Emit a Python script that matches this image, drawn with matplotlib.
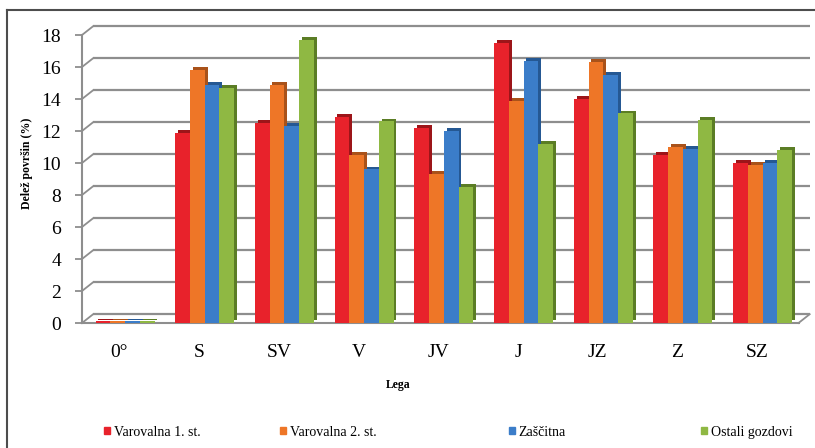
import numpy as np
import matplotlib.pyplot as plt
import matplotlib.patheffects as pe
from matplotlib.patches import Patch
from matplotlib.lines import Line2D

plt.rcParams['font.family'] = ['Liberation Serif', 'DejaVu Serif']

# delež površin po legah (%)
lege = ['0°', 'S', 'SV', 'V', 'JV', 'J', 'JZ', 'Z', 'SZ']
varovalna_1 = [0.1, 11.9, 12.5, 12.9, 12.2, 17.5, 14.0, 10.5, 10.0]
varovalna_2 = [0.1, 15.8, 14.9, 10.5, 9.3, 13.9, 16.3, 11.0, 9.9]
zascitna = [0.1, 14.9, 12.3, 9.6, 12.0, 16.4, 15.5, 10.9, 10.0]
ostali = [0.1, 14.7, 17.7, 12.6, 8.5, 11.2, 13.1, 12.7, 10.8]
imena = ['Varovalna 1. st.', 'Varovalna 2. st.', 'Zaščitna', 'Ostali gozdovi']
barve = ['#e8222b', '#ee7627', '#3b7dc9', '#8fb843']
stranice = ['#9c1519', '#a9521a', '#255893', '#5b7d25']
yticks = np.arange(0, 19, 2)

W, H = 815, 448
fig = plt.figure(figsize=(W / 100, H / 100), dpi=100)

# okvir grafa v pikslih
left, right, bottom, top = 82, 806.5, 323, 35
ax = fig.add_axes([left / W, 1 - bottom / H, (right - left) / W, (bottom - top) / H])
x_lo, x_hi = -0.54, 8.45
ax.set_xlim(x_lo, 8.55)
ax.set_ylim(0, 18)

# globina zadnje stene (v enotah podatkov)
DX, DY = 0.14, 0.55
siva = '#8e8e8e'
for v in yticks:
    ax.plot([x_lo + DX, x_hi + DX], [v + DY, v + DY], color=siva, lw=1.6,
            clip_on=False, zorder=1, solid_capstyle='butt')
    ax.plot([x_lo, x_lo + DX], [v, v + DY], color=siva, lw=1.3, clip_on=False, zorder=1)
ax.plot([x_hi, x_hi + DX], [0, DY], color=siva, lw=1.3, clip_on=False, zorder=1)

x = np.arange(len(lege))
bw = 0.185
podatki = [varovalna_1, varovalna_2, zascitna, ostali]
for k, (vals, c, s) in enumerate(zip(podatki, barve, stranice)):
    bars = ax.bar(x + (k - 1.5) * bw, vals, bw, color=c, zorder=3)
    for b in bars:
        b.set_path_effects([pe.SimplePatchShadow(offset=(2, 2), shadow_rgbFace=s, alpha=1),
                            pe.Normal()])

for sp in ['top', 'right']:
    ax.spines[sp].set_visible(False)
ax.spines['left'].set_color(siva)
ax.spines['left'].set_linewidth(1.5)
ax.spines['bottom'].set_color(siva)
ax.spines['bottom'].set_linewidth(1.5)
ax.spines['bottom'].set_bounds(x_lo, x_hi)

ax.set_yticks(yticks)
ax.tick_params(axis='y', length=5, color=siva, width=1.3, labelsize=14, pad=10)
ax.set_xticks(x - 0.07, lege)
ax.tick_params(axis='x', length=0, labelsize=14, pad=15)
ax.set_facecolor('none')

fig.text(27 / W, 1 - 163 / H, 'Delež površin (%)', rotation=90, fontsize=8.5,
         fontweight='bold', ha='center', va='center')
fig.text(398 / W, 1 - 385 / H, 'Lega', fontsize=8.5, fontweight='bold',
         ha='center', va='center')

# legenda: vsak vnos posebej
leg_x = [104, 280, 509, 701]
for xm, c, ime in zip(leg_x, barve, imena):
    fig.legend(handles=[Patch(color=c)], labels=[ime], loc='center left',
               bbox_to_anchor=(xm / W, 1 - 432 / H), frameon=False,
               handlelength=0.45, handleheight=0.45, handletextpad=0.25,
               fontsize=10, borderpad=0, borderaxespad=0)

# zunanji okvir
fig.add_artist(Line2D([7 / W, 815 / W], [1 - 10 / H, 1 - 10 / H], color='#4d4d4d', lw=1.5))
fig.add_artist(Line2D([7 / W, 7 / W], [1 - 10 / H, 0], color='#4d4d4d', lw=1.5))

fig.savefig('out.png', dpi=100)
